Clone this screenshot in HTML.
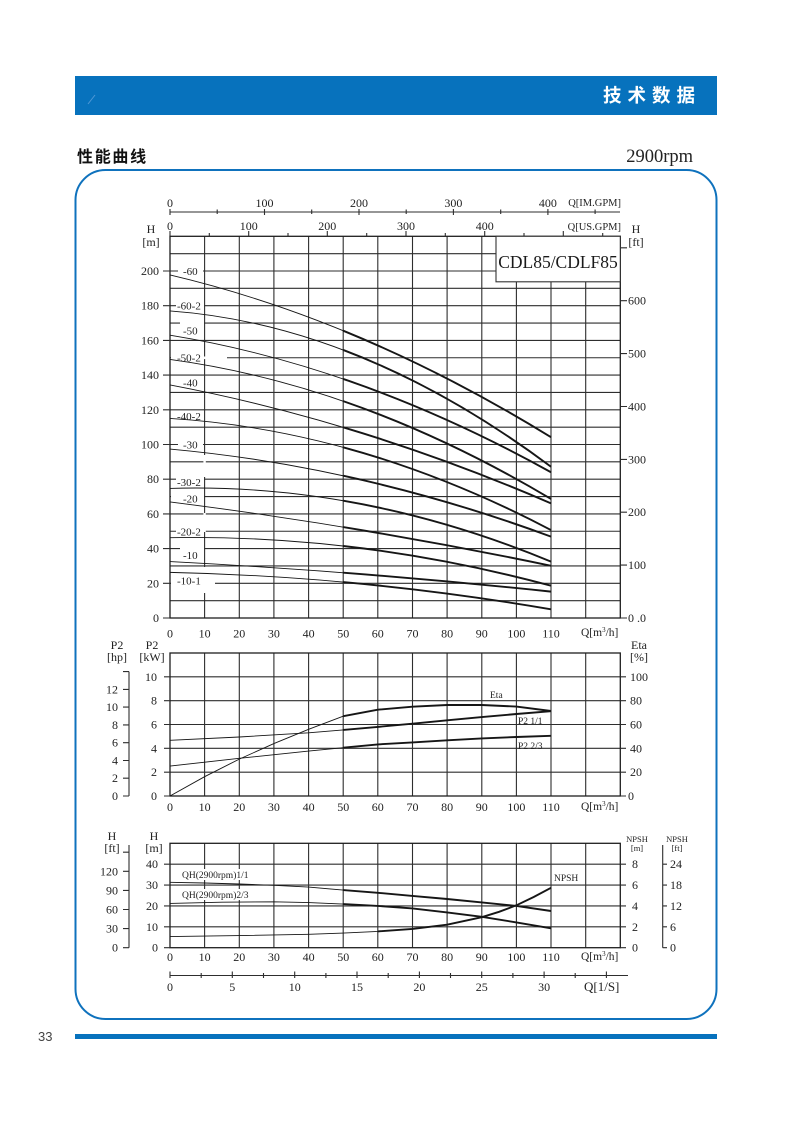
<!DOCTYPE html>
<html><head><meta charset="utf-8"><style>
html,body{margin:0;padding:0;background:#fff;}
svg{display:block;}
text{font-family:"Liberation Serif","Noto Serif CJK SC",serif;fill:#222;}
.cjk{font-family:"Liberation Sans","Noto Sans CJK SC",sans-serif;font-weight:bold;}
.c path{vector-effect:non-scaling-stroke;}
</style></head><body>
<svg width="793" height="1122" viewBox="0 0 793 1122" xmlns="http://www.w3.org/2000/svg">
<!-- header -->
<rect x="75" y="76" width="642" height="39" fill="#0772bd"/>
<line x1="88" y1="104" x2="95" y2="95" stroke="#4f98d6" stroke-width="1"/>
<text class="cjk" x="603" y="102" font-size="18.5" letter-spacing="6" style="fill:#fff">技术数据</text>
<text class="cjk" x="77" y="162" font-size="16" letter-spacing="1.7" style="fill:#111">性能曲线</text>
<text x="693" y="162" font-size="18.5" text-anchor="end" style="fill:#222">2900rpm</text>
<rect x="75.5" y="170" width="641" height="849" rx="30" ry="30" fill="none" stroke="#0f72bd" stroke-width="2"/>
<rect x="75" y="1034" width="642" height="5" fill="#0772bd"/>
<text x="38" y="1041" font-size="13" style="font-family:'Liberation Sans',sans-serif;fill:#444">33</text>

<!-- ================= TOP CHART ================= -->
<g stroke="#2e2e2e" stroke-width="1.1" fill="none">
<path d="M204.6 236.3V618M239.3 236.3V618M273.9 236.3V618M308.6 236.3V618M343.2 236.3V618M377.8 236.3V618M412.5 236.3V618M447.1 236.3V618M481.8 236.3V618M516.4 236.3V618M551 236.3V618M585.7 236.3V618"/>
<path d="M170 600.65H620.3M170 583.3H620.3M170 565.95H620.3M170 548.6H620.3M170 531.25H620.3M170 513.9H620.3M170 496.55H620.3M170 479.2H620.3M170 461.85H620.3M170 444.5H620.3M170 427.15H620.3M170 409.8H620.3M170 392.45H620.3M170 375.1H620.3M170 357.75H620.3M170 340.4H620.3M170 323.05H620.3M170 305.7H620.3M170 288.35H620.3M170 271H620.3M170 253.65H620.3"/>
<rect x="170" y="236.3" width="450.3" height="381.7" stroke="#1e1e1e" stroke-width="1.3"/>
<path d="M163 618H170M163 583.3H170M163 548.6H170M163 513.9H170M163 479.2H170M163 444.5H170M163 409.8H170M163 375.1H170M163 340.4H170M163 305.7H170M163 271H170"/>
<path d="M620.3 618H627M620.3 565.1H627M620.3 512.2H627M620.3 459.4H627M620.3 406.5H627M620.3 353.6H627M620.3 300.7H627M620.3 247.8H627"/>
<path d="M170 236.3V231M209.3 236.3V233M248.7 236.3V231M288 236.3V233M327.3 236.3V231M366.7 236.3V233M406 236.3V231M445.3 236.3V233M484.7 236.3V231M524 236.3V233M563.3 236.3V231M602.7 236.3V233"/>
<path d="M170 212H620M170 209V215M217.2 209.5V214M264.5 209V215M311.7 209.5V214M359 209V215M406.2 209.5V214M453.4 209V215M500.7 209.5V214M547.9 209V215M595.1 209.5V214"/>
</g>
<g fill="#fff">
<rect x="171" y="356.5" width="56" height="2.6"/>
<rect x="171" y="582" width="44" height="2.6"/>
<rect x="180" y="321.8" width="24" height="2.6"/>
<rect x="180" y="547.3" width="24" height="2.6"/>
<rect x="171" y="495.3" width="33" height="2.6"/>
<rect x="203.4" y="455" width="2.4" height="22"/>
<rect x="203.4" y="513" width="2.4" height="19"/>
<rect x="203.4" y="567" width="2.4" height="26"/>
<rect x="178" y="266" width="25" height="10"/>
<rect x="176" y="300.7" width="28" height="10"/>
<rect x="178" y="325.5" width="25" height="10"/>
<rect x="176" y="352.5" width="28" height="10"/>
<rect x="178" y="377.3" width="25" height="10"/>
<rect x="176" y="411" width="28" height="10"/>
<rect x="178" y="439.4" width="25" height="10"/>
<rect x="176" y="477" width="28" height="10"/>
<rect x="178" y="493.7" width="25" height="10"/>
<rect x="176" y="526.5" width="28" height="10"/>
<rect x="178" y="550" width="25" height="10"/>
<rect x="176" y="575.7" width="28" height="10"/>
</g>
<rect x="496" y="236.3" width="124.3" height="45.5" fill="#fff" stroke="#333" stroke-width="1.1"/>
<text x="558" y="268" font-size="17.5" text-anchor="middle" style="fill:#1a1a1a">CDL85/CDLF85</text>

<g class="c" transform="matrix(3.4636 0 0 -1.735 170 618)" fill="none" stroke="#161616">
<g stroke-width="0.9">
<path d="M0 197.7Q55 171.9 110 104.2"/>
<path d="M0 177Q55 169 110 87.2"/>
<path d="M0 163Q55 145.1 110 84"/>
<path d="M0 149Q55 134.1 110 68.6"/>
<path d="M0 134.3Q55 113.5 110 66.1"/>
<path d="M0 115Q55 108.3 110 50.7"/>
<path d="M0 97.4Q55 87.4 110 46.9"/>
<path d="M0 74.7Q55 78 110 32.5"/>
<path d="M0 66.9Q55 53 110 30.1"/>
<path d="M0 46.3Q55 48.2 110 18.6"/>
<path d="M0 32.5Q55 26.8 110 15.2"/>
<path d="M0 26.3Q55 23.9 110 5"/>
</g>
<g stroke-width="1.9">
<path d="M50 165.6Q80 141.1 110 104.2"/>
<path d="M50 154.5Q80 131.8 110 87.2"/>
<path d="M50 137.8Q80 117.3 110 84"/>
<path d="M50 125Q80 104.3 110 68.6"/>
<path d="M50 109.9Q80 92 110 66.1"/>
<path d="M50 98.4Q80 82.1 110 50.7"/>
<path d="M50 82Q80 69 110 46.9"/>
<path d="M50 67.6Q80 57.3 110 32.5"/>
<path d="M50 52.4Q80 42.6 110 30.1"/>
<path d="M50 41.5Q80 34.7 110 18.6"/>
<path d="M50 26.1Q80 21.5 110 15.2"/>
<path d="M50 20.7Q80 15.3 110 5"/>
</g>
</g>

<g font-size="11">
<text x="183" y="275">-60</text>
<text x="177" y="309.7">-60-2</text>
<text x="183" y="334.5">-50</text>
<text x="177" y="361.5">-50-2</text>
<text x="183" y="386.3">-40</text>
<text x="177" y="420">-40-2</text>
<text x="183" y="448.4">-30</text>
<text x="177" y="486">-30-2</text>
<text x="183" y="502.7">-20</text>
<text x="177" y="535.5">-20-2</text>
<text x="183" y="559">-10</text>
<text x="177" y="584.7">-10-1</text>
</g>
<g font-size="12">
<text x="151" y="233" text-anchor="middle">H</text>
<text x="151" y="246" text-anchor="middle">[m]</text>
<text x="636" y="233" text-anchor="middle">H</text>
<text x="636" y="246" text-anchor="middle">[ft]</text>
<g text-anchor="end">
<text x="159" y="622">0</text>
<text x="159" y="587.3">20</text>
<text x="159" y="552.6">40</text>
<text x="159" y="517.9">60</text>
<text x="159" y="483.2">80</text>
<text x="159" y="448.5">100</text>
<text x="159" y="413.8">120</text>
<text x="159" y="379.1">140</text>
<text x="159" y="344.4">160</text>
<text x="159" y="309.7">180</text>
<text x="159" y="275">200</text>
</g>
<text x="628" y="622">0 .0</text>
<text x="628" y="569.1">100</text>
<text x="628" y="516.2">200</text>
<text x="628" y="463.4">300</text>
<text x="628" y="410.5">400</text>
<text x="628" y="357.6">500</text>
<text x="628" y="304.7">600</text>
<g text-anchor="middle">
<text x="170" y="230">0</text>
<text x="248.7" y="230">100</text>
<text x="327.3" y="230">200</text>
<text x="406" y="230">300</text>
<text x="484.7" y="230">400</text>
<text x="170" y="207">0</text>
<text x="264.5" y="207">100</text>
<text x="359" y="207">200</text>
<text x="453.4" y="207">300</text>
<text x="547.9" y="207">400</text>
<text x="170" y="637.5">0</text>
<text x="204.6" y="637.5">10</text>
<text x="239.3" y="637.5">20</text>
<text x="273.9" y="637.5">30</text>
<text x="308.6" y="637.5">40</text>
<text x="343.2" y="637.5">50</text>
<text x="377.8" y="637.5">60</text>
<text x="412.5" y="637.5">70</text>
<text x="447.1" y="637.5">80</text>
<text x="481.8" y="637.5">90</text>
<text x="516.4" y="637.5">100</text>
<text x="551" y="637.5">110</text>
</g>
</g>
<text x="621" y="206" font-size="10.5" text-anchor="end">Q[IM.GPM]</text>
<text x="621" y="230" font-size="10.5" text-anchor="end">Q[US.GPM]</text>
<text x="581" y="636" font-size="11.5">Q[m<tspan font-size="7" dy="-4">3</tspan><tspan dy="4">/h]</tspan></text>

<!-- ================= MIDDLE CHART ================= -->
<g stroke="#2e2e2e" stroke-width="1.1" fill="none">
<path d="M204.6 653V796M239.3 653V796M273.9 653V796M308.6 653V796M343.2 653V796M377.8 653V796M412.5 653V796M447.1 653V796M481.8 653V796M516.4 653V796M551 653V796M585.7 653V796"/>
<path d="M170 772.2H620.3M170 748.3H620.3M170 724.5H620.3M170 700.7H620.3M170 676.8H620.3"/>
<rect x="170" y="653" width="450.3" height="143" stroke="#1e1e1e" stroke-width="1.3"/>
<path d="M164 796H170M164 772.2H170M164 748.3H170M164 724.5H170M164 700.7H170M164 676.8H170"/>
<path d="M620.3 796H626M620.3 772.2H626M620.3 748.3H626M620.3 724.5H626M620.3 700.7H626M620.3 676.8H626"/>
<path d="M129 671.6V796M123 796H129M123 778.2H129M123 760.5H129M123 742.7H129M123 724.9H129M123 707.1H129M123 689.4H129M123 671.6H129"/>
</g>
<g fill="none" stroke="#161616">
<g stroke-width="0.9">
<polyline points="170,796 204.6,776.7 239.3,759.1 273.9,743.6 308.6,729.3 343.2,716.2 377.8,709.7 412.5,706.7 447.1,705 481.8,705 516.4,706.6 551,711"/>
<polyline points="170,740.3 239.3,737 308.6,732.8 343.2,729.9 377.8,726.9 412.5,723.7 447.1,720.3 481.8,717.1 516.4,714 551,711.2"/>
<polyline points="170,766.1 239.3,758.3 308.6,751.1 343.2,747.7 377.8,744.4 412.5,742.4 447.1,740.3 481.8,738.4 516.4,737 551,735.8"/>
</g>
<g stroke-width="1.9">
<polyline points="343.2,716.2 377.8,709.7 412.5,706.7 447.1,705 481.8,705 516.4,706.6 551,711"/>
<polyline points="343.2,729.9 377.8,726.9 412.5,723.7 447.1,720.3 481.8,717.1 516.4,714 551,711.2"/>
<polyline points="343.2,747.7 377.8,744.4 412.5,742.4 447.1,740.3 481.8,738.4 516.4,737 551,735.8"/>
</g>
</g>
<g font-size="9.5">
<text x="490" y="698">Eta</text>
<text x="518" y="724">P2 1/1</text>
<text x="518" y="749">P2 2/3</text>
</g>
<g font-size="12">
<text x="117" y="649" text-anchor="middle">P2</text>
<text x="117" y="661" text-anchor="middle">[hp]</text>
<text x="152" y="649" text-anchor="middle">P2</text>
<text x="152" y="661" text-anchor="middle">[kW]</text>
<text x="639" y="649" text-anchor="middle">Eta</text>
<text x="639" y="661" text-anchor="middle">[%]</text>
<g text-anchor="end">
<text x="157" y="800">0</text>
<text x="157" y="776.2">2</text>
<text x="157" y="752.3">4</text>
<text x="157" y="728.5">6</text>
<text x="157" y="704.7">8</text>
<text x="157" y="680.8">10</text>
<text x="118" y="800">0</text>
<text x="118" y="782.2">2</text>
<text x="118" y="764.5">4</text>
<text x="118" y="746.7">6</text>
<text x="118" y="728.9">8</text>
<text x="118" y="711.1">10</text>
<text x="118" y="693.4">12</text>
</g>
<text x="628" y="800">0</text>
<text x="630" y="776.2">20</text>
<text x="630" y="752.3">40</text>
<text x="630" y="728.5">60</text>
<text x="630" y="704.7">80</text>
<text x="630" y="680.8">100</text>
<g text-anchor="middle">
<text x="170" y="811">0</text>
<text x="204.6" y="811">10</text>
<text x="239.3" y="811">20</text>
<text x="273.9" y="811">30</text>
<text x="308.6" y="811">40</text>
<text x="343.2" y="811">50</text>
<text x="377.8" y="811">60</text>
<text x="412.5" y="811">70</text>
<text x="447.1" y="811">80</text>
<text x="481.8" y="811">90</text>
<text x="516.4" y="811">100</text>
<text x="551" y="811">110</text>
</g>
</g>
<text x="581" y="810" font-size="11.5">Q[m<tspan font-size="7" dy="-4">3</tspan><tspan dy="4">/h]</tspan></text>

<!-- ================= BOTTOM CHART ================= -->
<g stroke="#2e2e2e" stroke-width="1.1" fill="none">
<path d="M204.6 843.3V947.7M239.3 843.3V947.7M273.9 843.3V947.7M308.6 843.3V947.7M343.2 843.3V947.7M377.8 843.3V947.7M412.5 843.3V947.7M447.1 843.3V947.7M481.8 843.3V947.7M516.4 843.3V947.7M551 843.3V947.7M585.7 843.3V947.7"/>
<path d="M170 926.8H620.3M170 905.9H620.3M170 885.1H620.3M170 864.2H620.3"/>
<rect x="170" y="843.3" width="450.3" height="104.4" stroke="#1e1e1e" stroke-width="1.3"/>
<path d="M164 947.7H170M164 926.8H170M164 905.9H170M164 885.1H170M164 864.2H170"/>
<path d="M620.3 947.7H626M620.3 926.8H626M620.3 905.9H626M620.3 885.1H626M620.3 864.2H626"/>
<path d="M129 845V947.7M123 947.7H129M123 928.6H129M123 909.5H129M123 890.4H129M123 871.3H129M123 852.2H129"/>
<path d="M662.7 845V947.7M662.7 947.7H667M662.7 926.8H667M662.7 905.9H667M662.7 885.1H667M662.7 864.2H667"/>
<path d="M170 975.5H628M170 971.5V978M201.2 973V978M232.3 971.5V978M263.5 973V978M294.7 971.5V978M325.9 973V978M357 971.5V978M388.2 973V978M419.4 971.5V978M450.5 973V978M481.7 971.5V978M512.9 973V978M544.1 971.5V978M575.2 973V978M606.4 971.5V978"/>
</g>
<g fill="#fff">
<rect x="180" y="869" width="74" height="11"/>
<rect x="180" y="889" width="74" height="11"/>
</g>
<g fill="none" stroke="#161616">
<g stroke-width="0.9">
<polyline points="170,882.3 204.6,883 239.3,884 273.9,885.3 308.6,887.1 343.2,890.1 377.8,892.8 412.5,895.9 447.1,899 481.8,902.4 516.4,905.9 551,911"/>
<polyline points="170,903.4 222,902.2 273.9,901.8 308.6,902.6 343.2,904.1 377.8,905.9 412.5,908.4 447.1,912.4 481.8,916.8 516.4,922.4 551,928.3"/>
<polyline points="170,936.6 239.3,935.6 308.6,934.3 343.2,933.1 377.8,931.4 412.5,928.9 447.1,924.7 481.8,917.2 499.1,911.8 516.4,905.3 533.7,897 551,887.8"/>
</g>
<g stroke-width="1.9">
<polyline points="343.2,890.1 377.8,892.8 412.5,895.9 447.1,899 481.8,902.4 516.4,905.9 551,911"/>
<polyline points="343.2,904.1 377.8,905.9 412.5,908.4 447.1,912.4 481.8,916.8 516.4,922.4 551,928.3"/>
<polyline points="377.8,931.4 412.5,928.9 447.1,924.7 481.8,917.2 499.1,911.8 516.4,905.3 533.7,897 551,887.8"/>
</g>
</g>
<g font-size="9.5">
<text x="182" y="878">QH(2900rpm)1/1</text>
<text x="182" y="898">QH(2900rpm)2/3</text>
<text x="554" y="881">NPSH</text>
</g>
<g font-size="8.5" text-anchor="middle">
<text x="637" y="842">NPSH</text>
<text x="637" y="851">[m]</text>
<text x="677" y="842">NPSH</text>
<text x="677" y="851">[ft]</text>
</g>
<g font-size="12">
<text x="112" y="840" text-anchor="middle">H</text>
<text x="112" y="852" text-anchor="middle">[ft]</text>
<text x="154" y="840" text-anchor="middle">H</text>
<text x="154" y="852" text-anchor="middle">[m]</text>
<g text-anchor="end">
<text x="158" y="951.7">0</text>
<text x="158" y="930.8">10</text>
<text x="158" y="909.9">20</text>
<text x="158" y="889.1">30</text>
<text x="158" y="868.2">40</text>
<text x="118" y="951.7">0</text>
<text x="118" y="932.6">30</text>
<text x="118" y="913.5">60</text>
<text x="118" y="894.4">90</text>
<text x="118" y="875.3">120</text>
</g>
<text x="632" y="951.7">0</text>
<text x="632" y="930.8">2</text>
<text x="632" y="909.9">4</text>
<text x="632" y="889.1">6</text>
<text x="632" y="868.2">8</text>
<text x="670" y="951.7">0</text>
<text x="670" y="930.8">6</text>
<text x="670" y="909.9">12</text>
<text x="670" y="889.1">18</text>
<text x="670" y="868.2">24</text>
<g text-anchor="middle">
<text x="170" y="961">0</text>
<text x="204.6" y="961">10</text>
<text x="239.3" y="961">20</text>
<text x="273.9" y="961">30</text>
<text x="308.6" y="961">40</text>
<text x="343.2" y="961">50</text>
<text x="377.8" y="961">60</text>
<text x="412.5" y="961">70</text>
<text x="447.1" y="961">80</text>
<text x="481.8" y="961">90</text>
<text x="516.4" y="961">100</text>
<text x="551" y="961">110</text>
<text x="170" y="991">0</text>
<text x="232.3" y="991">5</text>
<text x="294.7" y="991">10</text>
<text x="357" y="991">15</text>
<text x="419.4" y="991">20</text>
<text x="481.7" y="991">25</text>
<text x="544.1" y="991">30</text>
</g>
</g>
<text x="581" y="960" font-size="11.5">Q[m<tspan font-size="7" dy="-4">3</tspan><tspan dy="4">/h]</tspan></text>
<text x="584" y="991" font-size="13">Q[1/S]</text>
</svg>
</body></html>
